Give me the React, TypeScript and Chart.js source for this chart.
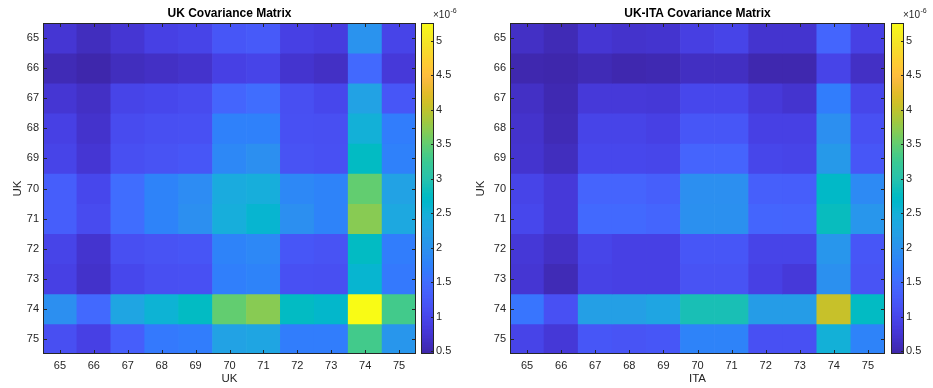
import React, { useEffect, useRef } from 'react';
import { Chart, registerables } from 'chart.js';

Chart.register(...registerables);

// ---------- data (values in units of 1e-6) ----------
const yearLabels = ['65', '66', '67', '68', '69', '70', '71', '72', '73', '74', '75'];
const rowYears = [65, 66, 67, 68, 69, 70, 71, 72, 73, 74, 75];

const ukCov: number[][] = [
  [0.75, 0.60, 0.75, 0.90, 0.95, 1.20, 1.25, 0.90, 0.85, 2.00, 0.95],
  [0.55, 0.48, 0.60, 0.65, 0.70, 0.90, 0.95, 0.72, 0.65, 1.45, 0.80],
  [0.75, 0.65, 0.95, 1.00, 1.05, 1.40, 1.50, 1.10, 1.00, 2.25, 1.20],
  [0.90, 0.70, 1.05, 1.10, 1.12, 1.75, 1.75, 1.12, 1.10, 2.50, 1.70],
  [0.95, 0.75, 1.10, 1.15, 1.20, 1.85, 1.95, 1.15, 1.12, 2.75, 1.75],
  [1.30, 1.00, 1.50, 1.78, 1.90, 2.40, 2.45, 1.85, 1.78, 3.50, 2.25],
  [1.30, 1.05, 1.50, 1.78, 1.95, 2.45, 2.60, 1.95, 1.78, 3.70, 2.35],
  [0.95, 0.72, 1.10, 1.15, 1.18, 1.78, 1.85, 1.20, 1.15, 2.75, 1.70],
  [0.90, 0.68, 1.00, 1.10, 1.12, 1.72, 1.78, 1.12, 1.10, 2.60, 1.65],
  [1.95, 1.45, 2.30, 2.55, 2.75, 3.50, 3.70, 2.75, 2.65, 5.26, 3.30],
  [1.10, 0.90, 1.30, 1.65, 1.70, 2.25, 2.30, 1.70, 1.70, 3.30, 2.05],
];

const ukItaCov: number[][] = [
  [0.65, 0.55, 0.75, 0.70, 0.72, 0.88, 0.95, 0.72, 0.72, 1.40, 0.90],
  [0.50, 0.48, 0.55, 0.50, 0.52, 0.63, 0.63, 0.50, 0.50, 0.95, 0.65],
  [0.65, 0.52, 0.80, 0.80, 0.78, 1.00, 1.00, 0.80, 0.72, 1.70, 0.98],
  [0.70, 0.55, 0.95, 0.95, 0.90, 1.20, 1.20, 0.90, 0.90, 1.95, 1.12],
  [0.72, 0.60, 1.00, 1.00, 0.98, 1.38, 1.38, 0.98, 0.95, 2.10, 1.20],
  [0.95, 0.80, 1.38, 1.38, 1.32, 1.95, 1.95, 1.32, 1.30, 2.70, 1.88],
  [1.00, 0.80, 1.45, 1.45, 1.40, 1.97, 1.97, 1.40, 1.38, 2.80, 2.05],
  [0.78, 0.65, 0.97, 0.90, 0.90, 1.20, 1.20, 0.95, 0.95, 2.05, 1.20],
  [0.75, 0.55, 0.93, 0.90, 0.90, 1.15, 1.15, 0.90, 0.80, 1.97, 1.17],
  [1.60, 1.12, 2.20, 2.20, 2.30, 2.90, 2.90, 2.15, 2.15, 4.05, 2.75],
  [0.95, 0.78, 1.20, 1.17, 1.20, 1.78, 1.78, 1.12, 1.12, 2.50, 1.78],
];

const colorbarTicks = [0.5, 1, 1.5, 2, 2.5, 3, 3.5, 4, 4.5, 5];
const colorMin = 0.46;
const colorMax = 5.26;

// ---------- parula colormap ----------
const PARULA: number[][] = [
  [0.2422, 0.1504, 0.6603], [0.2504, 0.1650, 0.7076], [0.2578, 0.1818, 0.7511], [0.2647, 0.1978, 0.7952],
  [0.2706, 0.2147, 0.8364], [0.2751, 0.2342, 0.8710], [0.2783, 0.2559, 0.8991], [0.2803, 0.2782, 0.9221],
  [0.2813, 0.3006, 0.9414], [0.2810, 0.3228, 0.9579], [0.2795, 0.3447, 0.9717], [0.2760, 0.3667, 0.9829],
  [0.2699, 0.3892, 0.9906], [0.2602, 0.4123, 0.9952], [0.2440, 0.4358, 0.9988], [0.2206, 0.4603, 0.9973],
  [0.1963, 0.4847, 0.9892], [0.1834, 0.5074, 0.9798], [0.1786, 0.5289, 0.9682], [0.1764, 0.5499, 0.9520],
  [0.1687, 0.5703, 0.9359], [0.1540, 0.5902, 0.9218], [0.1460, 0.6091, 0.9079], [0.1380, 0.6276, 0.8973],
  [0.1248, 0.6459, 0.8883], [0.1113, 0.6635, 0.8763], [0.0952, 0.6798, 0.8598], [0.0689, 0.6948, 0.8394],
  [0.0297, 0.7082, 0.8163], [0.0036, 0.7203, 0.7917], [0.0067, 0.7312, 0.7660], [0.0433, 0.7411, 0.7394],
  [0.0964, 0.7500, 0.7120], [0.1408, 0.7584, 0.6842], [0.1717, 0.7670, 0.6554], [0.1938, 0.7758, 0.6251],
  [0.2161, 0.7843, 0.5923], [0.2470, 0.7918, 0.5567], [0.2906, 0.7973, 0.5188], [0.3406, 0.8008, 0.4789],
  [0.3909, 0.8029, 0.4354], [0.4456, 0.8024, 0.3909], [0.5044, 0.7993, 0.3480], [0.5616, 0.7942, 0.3045],
  [0.6174, 0.7876, 0.2612], [0.6720, 0.7793, 0.2227], [0.7242, 0.7698, 0.1910], [0.7738, 0.7598, 0.1646],
  [0.8203, 0.7498, 0.1535], [0.8634, 0.7406, 0.1596], [0.9035, 0.7330, 0.1774], [0.9393, 0.7288, 0.2100],
  [0.9728, 0.7298, 0.2394], [0.9956, 0.7434, 0.2371], [0.9970, 0.7659, 0.2199], [0.9952, 0.7893, 0.2028],
  [0.9892, 0.8136, 0.1885], [0.9786, 0.8386, 0.1766], [0.9676, 0.8639, 0.1643], [0.9610, 0.8890, 0.1537],
  [0.9597, 0.9135, 0.1423], [0.9628, 0.9373, 0.1265], [0.9691, 0.9606, 0.1064], [0.9769, 0.9839, 0.0805],
];

function parulaAt(t: number): string {
  const tt = Math.max(0, Math.min(1, t)) * (PARULA.length - 1);
  const i = Math.min(PARULA.length - 2, Math.floor(tt));
  const f = tt - i;
  const a = PARULA[i], b = PARULA[i + 1];
  const c = [0, 1, 2].map((k) => Math.round((a[k] + (b[k] - a[k]) * f) * 255));
  return `rgb(${c[0]},${c[1]},${c[2]})`;
}
const colorFor = (v: number) => parulaAt((v - colorMin) / (colorMax - colorMin));

const FONT = '"Liberation Sans", Arial, Helvetica, sans-serif';
const AXIS_COLOR = '#262626';
Chart.defaults.font.family = FONT;
Chart.defaults.color = AXIS_COLOR;

// ---------- frame plugin (MATLAB-like box + inward ticks) ----------
const heatFrame = {
  id: 'heatFrame',
  afterDatasetsDraw(chart: any) {
    const { ctx, chartArea: a, scales } = chart;
    const xs = scales.x, ys = scales.y;
    const L = 4;
    ctx.save();
    ctx.strokeStyle = AXIS_COLOR;
    ctx.lineWidth = 1;
    ctx.beginPath();
    xs.ticks.forEach((_: any, i: number) => {
      const px = Math.round(xs.getPixelForTick(i)) + 0.5;
      ctx.moveTo(px, a.top); ctx.lineTo(px, a.top + L);
      ctx.moveTo(px, a.bottom); ctx.lineTo(px, a.bottom - L);
    });
    ys.ticks.forEach((t: any) => {
      const py = Math.round(ys.getPixelForValue(t.value)) + 0.5;
      ctx.moveTo(a.left, py); ctx.lineTo(a.left + L, py);
      ctx.moveTo(a.right, py); ctx.lineTo(a.right - L, py);
    });
    ctx.stroke();
    ctx.strokeRect(Math.round(a.left) + 0.5, Math.round(a.top) + 0.5, Math.round(a.width) - 1, Math.round(a.height) - 1);
    ctx.restore();
  },
};

const barFrame = {
  id: 'barFrame',
  afterDatasetsDraw(chart: any) {
    const { ctx, chartArea: a, scales } = chart;
    const ys = scales.y;
    ctx.save();
    ctx.strokeStyle = AXIS_COLOR;
    ctx.lineWidth = 1;
    ctx.beginPath();
    ys.ticks.forEach((t: any) => {
      const py = Math.round(ys.getPixelForValue(t.value)) + 0.5;
      ctx.moveTo(a.right, py); ctx.lineTo(a.right - 3, py);
    });
    ctx.stroke();
    ctx.strokeRect(Math.round(a.left) + 0.5, Math.round(a.top) + 0.5, Math.round(a.width) - 1, Math.round(a.height) - 1);
    ctx.fillStyle = AXIS_COLOR;
    ctx.textBaseline = 'middle';
    ctx.textAlign = 'left';
    ctx.font = `10px ${FONT}`;
    const x0 = a.left + 12;
    ctx.fillText('×10', x0, 15);
    const w = ctx.measureText('×10').width;
    ctx.font = `7px ${FONT}`;
    ctx.fillText('-6', x0 + w + 0.5, 11);
    ctx.restore();
  },
};

// ---------- components ----------
type HeatProps = {
  left: number; width: number; yAxisWidth: number;
  title: string; xTitle: string; yTitle: string; matrix: number[][];
};

function Heatmap({ left, width, yAxisWidth, title, xTitle, yTitle, matrix }: HeatProps) {
  const ref = useRef<HTMLCanvasElement>(null);
  useEffect(() => {
    const datasets = rowYears.map((r, ri) => ({
      label: `${r}`,
      data: yearLabels.map(() => [r - 0.5, r + 0.5]),
      backgroundColor: matrix[ri].map((v) => colorFor(v)),
      borderWidth: 0,
      barPercentage: 1,
      categoryPercentage: 1,
      grouped: false,
    }));
    const chart = new Chart(ref.current!, {
      type: 'bar',
      data: { labels: yearLabels, datasets: datasets as any },
      plugins: [heatFrame],
      options: {
        responsive: false,
        animation: false,
        layout: { padding: 0 },
        plugins: {
          legend: { display: false },
          tooltip: { enabled: false },
          title: {
            display: true, text: title, fullSize: false, color: '#000',
            font: { size: 12, weight: 'bold', lineHeight: 1.25 },
            padding: { top: 6.5, bottom: 1.5 },
          },
        },
        scales: {
          x: {
            type: 'category',
            offset: true,
            grid: { display: false, drawTicks: false },
            border: { display: false },
            ticks: { font: { size: 11 }, color: AXIS_COLOR, padding: 5, maxRotation: 0, autoSkip: false },
            title: { display: true, text: xTitle, color: AXIS_COLOR, font: { size: 11.5 }, padding: { top: 0, bottom: 2 } },
            afterFit: (s: any) => { s.height = 34; },
          },
          y: {
            type: 'linear',
            min: 64.5, max: 75.5, reverse: true,
            grid: { display: false, drawTicks: false },
            border: { display: false },
            afterBuildTicks: (s: any) => { s.ticks = rowYears.map((v) => ({ value: v })); },
            ticks: { font: { size: 11 }, color: AXIS_COLOR, padding: 4, callback: (v: any) => String(v) },
            title: { display: true, text: yTitle, color: AXIS_COLOR, font: { size: 11.5 }, padding: { top: 11, bottom: 0 } },
            afterFit: (s: any) => { s.width = yAxisWidth; },
          },
        },
      } as any,
    });
    return () => chart.destroy();
  }, []);
  return (
    <canvas ref={ref} width={width} height={388}
      style={{ position: 'absolute', left, top: 0, width, height: 388, display: 'block' }} />
  );
}

function Colorbar({ left }: { left: number }) {
  const ref = useRef<HTMLCanvasElement>(null);
  useEffect(() => {
    const N = 256;
    const steps = Array.from({ length: N }, (_, i) => i);
    const datasets = steps.map((i) => ({
      data: [[colorMin, colorMin + ((i + 1) / N) * (colorMax - colorMin)]],
      backgroundColor: parulaAt((i + 0.5) / N),
      borderWidth: 0,
      barPercentage: 1,
      categoryPercentage: 1,
      grouped: false,
    }));
    const chart = new Chart(ref.current!, {
      type: 'bar',
      data: { labels: [''], datasets: datasets as any },
      plugins: [barFrame],
      options: {
        responsive: false,
        animation: false,
        layout: { padding: { top: 23, bottom: 34, left: 0, right: 0 } },
        plugins: { legend: { display: false }, tooltip: { enabled: false } },
        scales: {
          x: { type: 'category', display: false, offset: true },
          y: {
            type: 'linear', position: 'right', min: colorMin, max: colorMax,
            grid: { display: false, drawTicks: false },
            border: { display: false },
            afterBuildTicks: (s: any) => { s.ticks = colorbarTicks.map((v) => ({ value: v })); },
            ticks: { font: { size: 11 }, color: AXIS_COLOR, padding: 2, callback: (v: any) => String(v) },
            afterFit: (s: any) => { s.width = 28; },
          },
        },
      } as any,
    });
    return () => chart.destroy();
  }, []);
  return (
    <canvas ref={ref} width={41} height={388}
      style={{ position: 'absolute', left, top: 0, width: 41, height: 388, display: 'block' }} />
  );
}

export default function App() {
  useEffect(() => { document.body.style.margin = '0'; }, []);
  return (
    <div style={{ position: 'absolute', left: 0, top: 0, width: 933, height: 388, background: '#fff', overflow: 'hidden' }}>
      <Heatmap left={0} width={416} yAxisWidth={43} title="UK Covariance Matrix" xTitle="UK" yTitle="UK" matrix={ukCov} />
      <Colorbar left={421} />
      <Heatmap left={463} width={422} yAxisWidth={47} title="UK-ITA Covariance Matrix" xTitle="ITA" yTitle="UK" matrix={ukItaCov} />
      <Colorbar left={891} />
    </div>
  );
}
